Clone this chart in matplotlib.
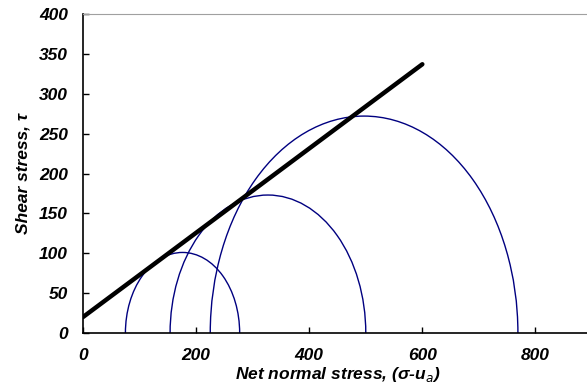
import matplotlib
matplotlib.use('Agg')
import matplotlib.pyplot as plt
from matplotlib.patches import Arc

# Mohr circles: centre (net normal stress) and radius
centres = [176, 327, 497]
radii = [101, 173, 272]

# failure envelope end points
env_x = [0, 600]
env_y = [20, 337]

x_ticks = [0, 200, 400, 600, 800]
y_ticks = [0, 50, 100, 150, 200, 250, 300, 350, 400]

plt.rcParams['font.family'] = ['Liberation Sans', 'DejaVu Sans']

fig = plt.figure(figsize=(5.87, 3.9), dpi=100)
ax = fig.add_axes([83 / 587, 1 - 333 / 390, 509 / 587, 319 / 390])

for c, r in zip(centres, radii):
    ax.add_patch(Arc((c, 0), 2 * r, 2 * r, theta1=0, theta2=180,
                     color='#000080', lw=1.0))

ax.plot(env_x, env_y, color='black', lw=3.2, solid_capstyle='round')

ax.set_xlim(0, 900)
ax.set_ylim(0, 400)
ax.set_xticks(x_ticks)
ax.set_yticks(y_ticks)
ax.tick_params(direction='in', length=4, width=1, labelsize=12.5)
ax.tick_params(axis='x', pad=11)
ax.tick_params(axis='y', pad=11)
for lab in ax.get_xticklabels() + ax.get_yticklabels():
    lab.set_fontweight('bold')
    lab.set_fontstyle('italic')

ax.spines['top'].set_color('#a0a0a0')
ax.spines['right'].set_visible(False)
ax.spines['left'].set_linewidth(1.2)
ax.spines['bottom'].set_linewidth(1.2)

ax.set_xlabel(r'Net normal stress, (σ-u$_{\mathit{a}}$)', fontsize=12.5,
              fontweight='bold', fontstyle='italic', labelpad=1)
ax.set_ylabel('Shear stress, τ', fontsize=12.5, fontweight='bold',
              fontstyle='italic', labelpad=6)

fig.savefig('out.png', dpi=100)
